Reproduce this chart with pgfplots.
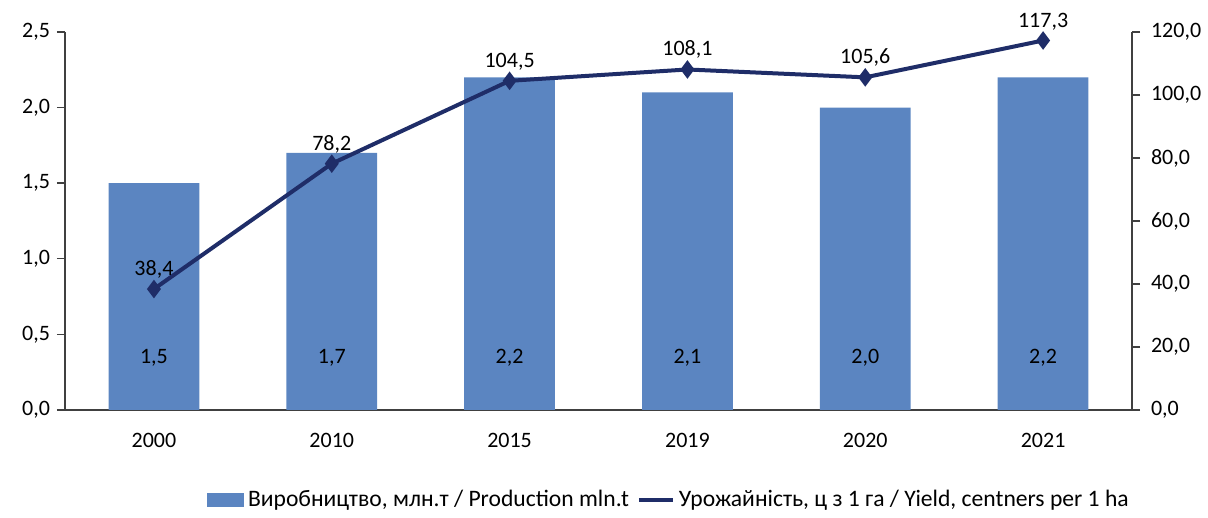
\documentclass[border=0pt]{standalone}
\usepackage{pgfplots}
\pgfplotsset{compat=1.18}
\usepackage{pgfplotstable}
\usepackage{fontspec}
\setmainfont{Carlito}
\definecolor{barblue}{RGB}{91,133,193}
\definecolor{navy}{RGB}{31,45,104}
\definecolor{axisgray}{RGB}{64,64,64}

\pgfplotstableread{
x year prod yield
0 2000 1.5 38.4
1 2010 1.7 78.2
2 2015 2.2 104.5
3 2019 2.1 108.1
4 2020 2.0 105.6
5 2021 2.2 117.3
}\datatable

\begin{document}
\begin{tikzpicture}[font=\fontsize{11}{13}\selectfont]
\pgfplotsset{
  base/.style={
    scale only axis, width=533.5pt, height=189pt,
    at={(0,0)}, anchor=south west,
    xmin=-0.5, xmax=5.5,
    /pgf/number format/assume math mode=true,
    /pgf/number format/.cd, use comma, fixed, fixed zerofill, precision=1,
    /pgfplots/.cd,
    tick label style={font=\fontsize{11}{13}\selectfont, text=black},
    axis line style={axisgray, line width=0.7pt},
    tick style={axisgray, line width=0.7pt},
    tick align=outside, major tick length=4pt,
  }
}
\begin{axis}[base,
  ymin=0, ymax=2.5, ytick={0,0.5,...,2.5},
  axis y line*=left, axis x line*=bottom,
  xtick=data, xticklabels={2000,2010,2015,2019,2020,2021},
  major x tick style={draw=none},
  extra x ticks={0.5,1.5,2.5,3.5,4.5},
  extra x tick labels={},
  extra x tick style={major x tick style={axisgray, line width=0.7pt}, tick align=outside},
  xticklabel style={yshift=-4pt},
]
\addplot[ybar, bar width=0.51, fill=barblue, draw=none] table[x=x, y=prod] {\datatable};
\addplot[draw=none, mark=none,
  nodes near coords, point meta=explicit,
  nodes near coords style={anchor=center, font=\fontsize{11}{13}\selectfont,
    /pgf/number format/.cd, use comma, fixed, fixed zerofill, precision=1,
    assume math mode=true},
] table[x=x, y expr=0.344, meta=prod] {\datatable};
\end{axis}
\begin{axis}[base,
  ymin=0, ymax=120, ytick={0,20,...,120},
  axis y line*=right, axis x line=none,
  yticklabel style={xshift=2pt},
  legend style={at={(0.567,-0.238)}, anchor=center, draw=none, fill=none,
    legend columns=2, font=\fontsize{11.8}{13}\selectfont,
    /tikz/every even column/.append style={column sep=2pt}},
  legend cell align=left,
]
\addlegendimage{legend image code/.code={
  \fill[barblue] (-1pt,-3pt) rectangle (17pt,3.5pt);}}
\addlegendentry{Виробництво, млн.т / Production mln.t}
\addlegendimage{legend image code/.code={
  \draw[navy, line width=1.8pt] (0pt,0pt) -- (17pt,0pt);}}
\addlegendentry{Урожайність, ц з 1 га / Yield, centners per 1 ha}
\addplot[navy, line width=2pt, mark=diamond*, mark size=3pt, forget plot,
  nodes near coords, point meta=explicit,
  nodes near coords style={anchor=south, yshift=1pt, font=\fontsize{11}{13}\selectfont, text=black,
    /pgf/number format/.cd, use comma, fixed, fixed zerofill, precision=1,
    assume math mode=true},
] table[x=x, y=yield, meta=yield] {\datatable};
\end{axis}
\path[use as bounding box] (-32.5pt,-52pt) rectangle (571.5pt,205pt);
\end{tikzpicture}
\end{document}
